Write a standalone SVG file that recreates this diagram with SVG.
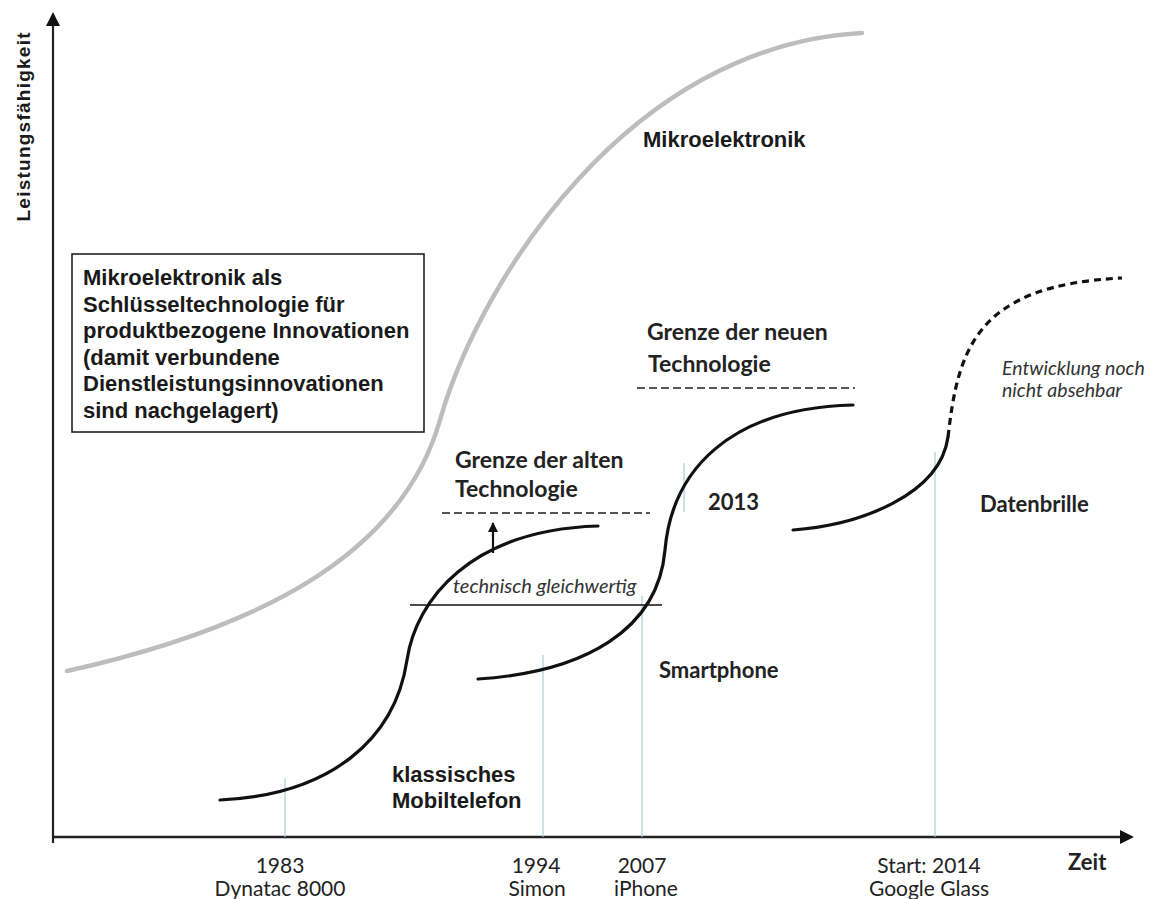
<svg xmlns="http://www.w3.org/2000/svg" width="1157" height="899" viewBox="0 0 1157 899">
<style>
.ax{stroke:#222;stroke-width:2.2;fill:none}
.cv{stroke:#111;stroke-width:3.2;fill:none;stroke-linecap:round}
.gray{stroke:#bdbdbd;stroke-width:4.5;fill:none;stroke-linecap:round}
.blue{stroke:#a9cbd9;stroke-width:1.2}
.lim{stroke:#555;stroke-width:2;stroke-dasharray:8 4}
.arial{font-family:"Liberation Sans",Arial,sans-serif;font-weight:bold;font-size:22px;fill:#1a1a1a}
.cal{font-family:Lato,"Open Sans",sans-serif;fill:#222}
.b{font-weight:bold}
.it{font-style:italic;fill:#333}
</style>
<defs>
<marker id="ah" viewBox="0 0 10 10" refX="9" refY="5" markerWidth="10" markerHeight="10" markerUnits="userSpaceOnUse" orient="auto">
<path d="M0,0 L10,5 L0,10 z" fill="#111"/>
</marker>
</defs>
<rect width="1157" height="899" fill="#fff"/>

<g id="axes">
<line class="ax" x1="53" y1="843" x2="53" y2="24"/>
<path d="M46,26 L53,12 L60,26 z" fill="#111"/>
<line class="ax" x1="53" y1="837" x2="1122" y2="837" style="stroke-width:2.6"/>
<path d="M1120,830 L1134,837 L1120,844 z" fill="#111"/>
<text class="arial" transform="translate(30,127) rotate(-90)" text-anchor="middle" style="font-size:19px" textLength="189">Leistungsfähigkeit</text>
<text class="cal b" x="1068" y="870" style="font-size:22px">Zeit</text>
</g>

<g id="guides">
<line class="blue" x1="285" y1="778" x2="285" y2="837"/>
<line class="blue" x1="543" y1="655" x2="543" y2="837"/>
<line class="blue" x1="642" y1="596" x2="642" y2="837"/>
<line class="blue" x1="684" y1="463" x2="684" y2="512"/>
<line class="blue" x1="935" y1="452" x2="935" y2="837"/>
</g>

<g id="connectors">
<path id="c-mikro" class="gray" d="M67,671 C250,630 400,560 440,420 C480,280 630,45 862,33"/>
<path id="c-mobil" class="cv" d="M220,800 C330,795 395,740 407,660 C416,600 470,530 598,526"/>
<path id="c-smart" class="cv" d="M478,679 C585,672 658,630 665,550 C672,470 730,408 853,405"/>
<path id="c-brille" class="cv" d="M793,530 C860,525 940,495 948,437"/>
<path id="c-future" class="cv" d="M948,437 C958,350 975,285 1122,278" style="stroke-dasharray:7 5;stroke-linecap:butt"/>
<line class="lim" x1="442" y1="513" x2="650" y2="513"/>
<line class="lim" x1="637" y1="388" x2="855" y2="388"/>
<line x1="410" y1="605" x2="662" y2="605" stroke="#111" stroke-width="1.6"/>
<line x1="493" y1="553" x2="493" y2="523" stroke="#111" stroke-width="2.2" marker-end="url(#ah)"/>
</g>

<g id="box">
<rect x="72" y="254" width="352" height="178" fill="#fff" stroke="#222" stroke-width="1.6"/>
<text class="arial" x="83" y="285">
<tspan x="83" y="285">Mikroelektronik als</tspan>
<tspan x="83" y="311.5">Schlüsseltechnologie für</tspan>
<tspan x="83" y="338">produktbezogene Innovationen</tspan>
<tspan x="83" y="364.5">(damit verbundene</tspan>
<tspan x="83" y="391">Dienstleistungsinnovationen</tspan>
<tspan x="83" y="417.5">sind nachgelagert)</tspan>
</text>
</g>

<g id="label-mikro"><text class="arial" x="643" y="147">Mikroelektronik</text></g>

<g id="label-alt">
<text class="cal b" x="455" y="468" style="font-size:23px">Grenze der alten</text>
<text class="cal b" x="455" y="497" style="font-size:23px">Technologie</text>
</g>

<g id="label-neu">
<text class="cal b" x="647" y="340" style="font-size:23px">Grenze der neuen</text>
<text class="cal b" x="648" y="372" style="font-size:23px">Technologie</text>
</g>

<g id="label-2013"><text class="cal b" x="708" y="510" style="font-size:22px">2013</text></g>
<g id="label-smart"><text class="cal b" x="659" y="678" style="font-size:22px">Smartphone</text></g>
<g id="label-brille"><text class="cal b" x="980" y="512" style="font-size:22px">Datenbrille</text></g>

<g id="label-entw">
<text class="cal it" x="1002" y="375" style="font-size:19.5px">Entwicklung noch</text>
<text class="cal it" x="1002" y="397" style="font-size:19.5px">nicht absehbar</text>
</g>

<g id="label-gleich"><text class="cal it" x="453" y="593" style="font-size:20px">technisch gleichwertig</text></g>

<g id="label-klass">
<text class="arial" x="392" y="782">klassisches</text>
<text class="arial" x="392" y="808">Mobiltelefon</text>
</g>

<g id="ticks" class="cal" style="font-size:21px" text-anchor="middle">
<text x="280" y="873">1983</text>
<text x="280" y="896">Dynatac 8000</text>
<text x="536" y="873">1994</text>
<text x="537" y="896">Simon</text>
<text x="642" y="873">2007</text>
<text x="646" y="896">iPhone</text>
<text x="929" y="873">Start: 2014</text>
<text x="929" y="896">Google Glass</text>
</g>
</svg>
